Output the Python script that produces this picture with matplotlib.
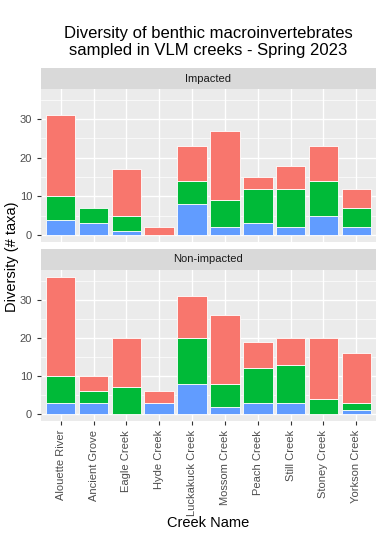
import matplotlib
matplotlib.use("Agg")
import matplotlib.pyplot as plt
import numpy as np
from matplotlib.ticker import MultipleLocator

creeks = ["Alouette River", "Ancient Grove", "Eagle Creek", "Hyde Creek", "Luckakuck Creek",
          "Mossom Creek", "Peach Creek", "Still Creek", "Stoney Creek", "Yorkson Creek"]
panels = ["Impacted", "Non-impacted"]

# stacked segments (bottom: blue, middle: green, top: red)
imp_blue = [4, 3, 1, 0, 8, 2, 3, 2, 5, 2]
imp_green = [6, 4, 4, 0, 6, 7, 9, 10, 9, 5]
imp_red = [21, 0, 12, 2, 9, 18, 3, 6, 9, 5]

non_blue = [3, 3, 0, 3, 8, 2, 3, 3, 0, 1]
non_green = [7, 3, 7, 0, 12, 6, 9, 10, 4, 2]
non_red = [26, 4, 13, 3, 11, 18, 7, 7, 16, 13]

col_red = "#F8766D"
col_green = "#00BA38"
col_blue = "#619CFF"

plt.rcParams['font.family'] = ['Liberation Sans', 'DejaVu Sans']

fig = plt.figure(figsize=(3.9, 5.48), dpi=100)
W, H = 390, 548
left, right = 41, 376
panel_specs = [(89, 242, 68), (270, 421, 249)]
data = [(imp_blue, imp_green, imp_red), (non_blue, non_green, non_red)]

x = np.arange(len(creeks))
for i, ((top, bot, stop), (b, g, r)) in enumerate(zip(panel_specs, data)):
    ax = fig.add_axes([left / W, 1 - bot / H, (right - left) / W, (bot - top) / H])
    ax.set_facecolor("#EBEBEB")
    b = np.array(b); g = np.array(g); r = np.array(r)
    kw = dict(width=0.9, edgecolor="white", linewidth=0.6, zorder=3)
    for vals, base, c in [(b, np.zeros_like(b), col_blue), (g, b, col_green), (r, b + g, col_red)]:
        mask = vals > 0
        ax.bar(x[mask], vals[mask], bottom=base[mask], color=c, **kw)
    ax.set_xlim(-0.6, len(creeks) - 0.4)
    ax.set_ylim(-1.8, 37.8)
    ax.yaxis.set_major_locator(MultipleLocator(10))
    ax.yaxis.set_minor_locator(MultipleLocator(5))
    ax.grid(True, which="major", color="white", linewidth=1.0, zorder=0)
    ax.grid(True, which="minor", axis="y", color="white", linewidth=0.5, zorder=0)
    ax.set_axisbelow(True)
    for s in ax.spines.values():
        s.set_visible(False)
    ax.tick_params(axis="both", which="major", length=3, color="#333333", labelsize=8,
                   labelcolor="#4D4D4D", width=0.8)
    ax.tick_params(axis="y", which="minor", length=0)
    ax.set_xticks(x)
    if i == 0:
        ax.set_xticklabels([])
        ax.tick_params(axis="x", length=0)
    else:
        ax.set_xticklabels(creeks, rotation=90, fontsize=8, color="#4D4D4D")
    # strip
    sax = fig.add_axes([left / W, 1 - top / H, (right - left) / W, (top - stop) / H])
    sax.set_facecolor("#D9D9D9")
    sax.set_xticks([]); sax.set_yticks([])
    for s in sax.spines.values():
        s.set_visible(False)
    sax.text(0.5, 0.5, panels[i], ha="center", va="center", fontsize=8, color="#1A1A1A",
             transform=sax.transAxes)

fig.text((left + right) / 2 / W, 1 - 523 / H, "Creek Name", ha="center", va="center", fontsize=10.5)
fig.text(12 / W, 1 - 257 / H, "Diversity (# taxa)", ha="center", va="center", rotation=90, fontsize=10.5)
fig.text(208 / W, 1 - 42 / H, "Diversity of benthic macroinvertebrates\nsampled in VLM creeks - Spring 2023",
         ha="center", va="center", fontsize=12, linespacing=1.1)

fig.savefig("out.png", dpi=100, facecolor="white")
